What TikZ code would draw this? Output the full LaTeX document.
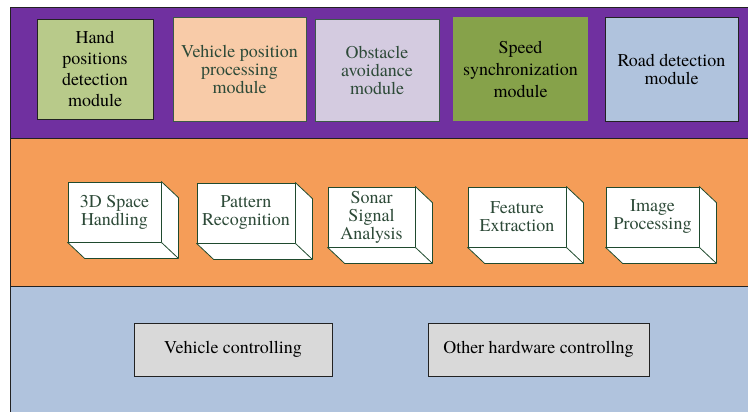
\documentclass[tikz,border=0pt]{standalone}
\usepackage{fontspec}
\setmainfont{TeX Gyre Termes}
\usetikzlibrary{calc}
\definecolor{bandpurple}{HTML}{7030A0}
\definecolor{bandorange}{HTML}{F59D58}
\definecolor{bandblue}{HTML}{B0C3DD}
\definecolor{handfill}{HTML}{B8CA8A}
\definecolor{vehfill}{HTML}{F8CBA8}
\definecolor{obsfill}{HTML}{D4CBE0}
\definecolor{speedfill}{HTML}{86A24A}
\definecolor{roadfill}{HTML}{B0C3DD}
\definecolor{botfill}{HTML}{D9D9D9}
\definecolor{txtgreen}{HTML}{2D4A38}
\definecolor{edgegreen}{HTML}{3A5A48}
\definecolor{cubeedge}{HTML}{1F4A2E}
\definecolor{darkedge}{HTML}{222222}
\begin{document}
\begin{tikzpicture}[x=1pt,y=-1pt,
  bandline/.style={draw=darkedge,line width=0.9pt},
  modbox/.style={inner sep=0pt,align=center,line width=0.8pt},
  cubebox/.style={draw=cubeedge,fill=white,line width=0.8pt,inner sep=0pt,align=center,
    text=txtgreen,minimum height=60pt,font=\fontsize{18}{18}\selectfont},
  cubeside/.style={draw=cubeedge,fill=white,line width=0.8pt,line join=round},
  botbox/.style={draw=darkedge,fill=botfill,line width=0.8pt,inner sep=0pt,
    minimum height=53pt,font=\fontsize{18}{20}\selectfont}]
\useasboundingbox (0,0) rectangle (748,412);
% bands
\fill[bandpurple] (10,7) rectangle (748,138);
\fill[bandorange] (10,138) rectangle (748,286);
\fill[bandblue] (10,286) rectangle (748,412);
\draw[bandline] (748,7) -- (10,7) -- (10,412);
\draw[bandline] (10,138) -- (748,138);
\draw[bandline] (10,286) -- (748,286);
% top modules
\node[modbox,draw=darkedge,fill=handfill,minimum width=116pt,minimum height=100pt,
  font=\fontsize{18}{21}\selectfont] (hand) at (95,69) {Hand\\positions\\detection\\module};
\node[modbox,draw=edgegreen,fill=vehfill,text=txtgreen,minimum width=133pt,minimum height=104pt,
  font=\fontsize{18}{18}\selectfont] (veh) at (239.5,69) {Vehicle position\\processing\\module};
\node[modbox,draw=edgegreen,fill=obsfill,text=txtgreen,minimum width=124pt,minimum height=102pt,
  font=\fontsize{18}{18}\selectfont] (obs) at (377,70) {Obstacle\\avoidance\\module};
\node[modbox,fill=speedfill,minimum width=135pt,minimum height=104pt,
  font=\fontsize{18}{22}\selectfont] (speed) at (520.5,69) {Speed\\synchronization\\module};
\node[modbox,draw=darkedge,fill=roadfill,minimum width=133pt,minimum height=104pt,
  font=\fontsize{18}{18}\selectfont] (road) at (671.5,69) {Road detection\\module};
% cubes
\foreach \n/\cx/\cy/\w/\t in {c1/114.5/212/93/{3D Space\\Handling},
                              c2/246/213/98/{Pattern\\Recognition},
                              c3/371.5/217/87/{Sonar\\Signal\\Analysis},
                              c4/517/217/98/{Feature\\Extraction},
                              c5/652.5/217/93/{Image\\Processing}}{
  \node[cubebox,minimum width=\w pt] (\n) at (\cx,\cy) {\t};
  \draw[cubeside] (\n.south west) -- ++(17,16) -| ($(\n.north east)+(17,16)$) -- (\n.north east) -- (\n.south east) -- cycle;
  \draw[cubeside] (\n.south east) -- ++(17,16);
}
% bottom boxes
\node[botbox,minimum width=198pt] (vc) at (233,349.5) {Vehicle controlling};
\node[botbox,minimum width=221pt] (oh) at (538.5,349.5) {Other hardware controllng};
\end{tikzpicture}
\end{document}
